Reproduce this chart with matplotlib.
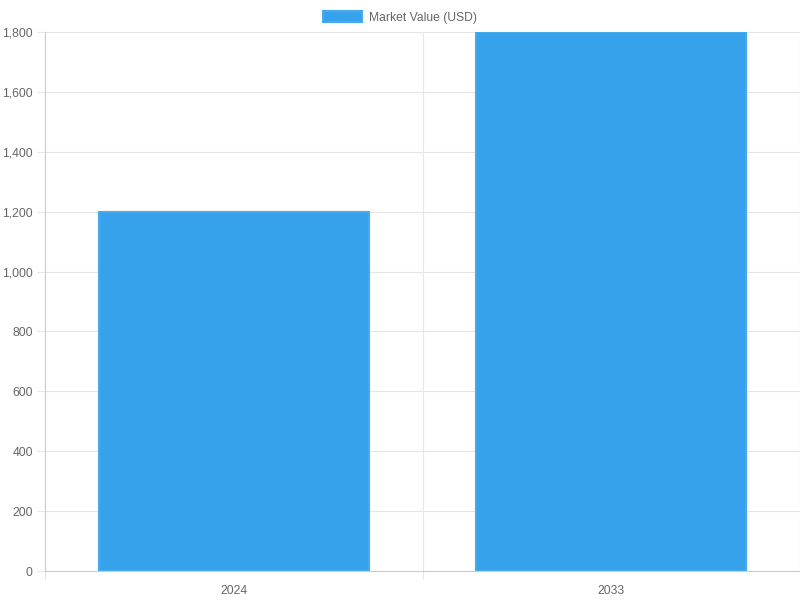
import matplotlib.pyplot as plt
import numpy as np
from matplotlib.ticker import FuncFormatter

plt.rcParams['font.family'] = ['Liberation Sans', 'DejaVu Sans']

years = ['2024', '2033']
market_value = [1200, 1800]

fig = plt.figure(figsize=(8, 6), dpi=100)
ax = fig.add_axes([45 / 800, 29 / 600, 755 / 800, 539 / 600])

x = np.arange(len(years))
ax.bar(x, market_value, width=0.715, color='#36A2EB', edgecolor='#45A9EE',
       linewidth=1.5, label='Market Value (USD)', zorder=3)

ax.set_xlim(-0.5, len(years) - 0.5)
ax.set_ylim(0, 1800)
ax.set_yticks(np.arange(0, 1801, 200))
ax.yaxis.set_major_formatter(FuncFormatter(lambda v, p: f'{int(v):,}'))
ax.set_xticks(x)
ax.set_xticklabels(years)
ax.set_xticks(np.arange(-0.5, len(years), 1), minor=True)

# px -> pt at 100 dpi: 0.72
ax.grid(axis='y', color='#e6e6e6', linewidth=0.8, zorder=0)
ax.grid(axis='x', which='minor', color='#e6e6e6', linewidth=0.8, zorder=0)
ax.tick_params(axis='x', which='major', length=0, pad=10, labelsize=8.7, labelcolor='#666666')
ax.tick_params(axis='x', which='minor', length=5.8, width=0.8, color='#e6e6e6')
ax.tick_params(axis='y', length=5.8, width=0.8, color='#e6e6e6', pad=3, labelsize=8.7, labelcolor='#666666')

for side in ['top', 'right']:
    ax.spines[side].set_visible(False)
for side in ['left', 'bottom']:
    ax.spines[side].set_color('#cccccc')
    ax.spines[side].set_linewidth(0.8)
    ax.spines[side].set_zorder(4)

fig.legend(loc='upper center', bbox_to_anchor=(0.5, 1.0), frameon=False,
           fontsize=8.7, handlelength=3.25, handleheight=1.1, handletextpad=0.55,
           labelcolor='#666666', borderaxespad=0.5)

fig.savefig('out.png', dpi=100)
